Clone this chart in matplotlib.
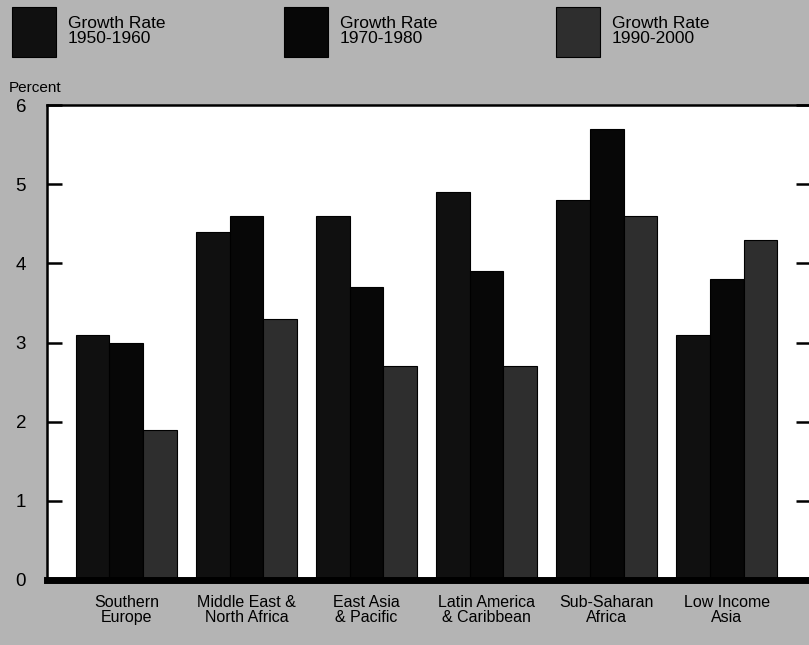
import matplotlib.pyplot as plt
from matplotlib.patches import Rectangle
import numpy as np

# === Data ===
regions = ["Southern\nEurope", "Middle East &\nNorth Africa", "East Asia\n& Pacific",
           "Latin America\n& Caribbean", "Sub-Saharan\nAfrica", "Low Income\nAsia"]
growth_1950_1960 = [3.1, 4.4, 4.6, 4.9, 4.8, 3.1]
growth_1970_1980 = [3.0, 4.6, 3.7, 3.9, 5.7, 3.8]
growth_1990_2000 = [1.9, 3.3, 2.7, 2.7, 4.6, 4.3]
series_labels = ["Growth Rate\n1950-1960", "Growth Rate\n1970-1980", "Growth Rate\n1990-2000"]
y_ticks = [0, 1, 2, 3, 4, 5, 6]

# === Style ===
BG = "#b4b4b4"
COLORS = ["#101010", "#070707", "#2e2e2e"]
plt.rcParams["font.family"] = ["Liberation Sans", "DejaVu Sans"]

fig = plt.figure(figsize=(8.09, 6.45), dpi=100)
fig.patch.set_facecolor(BG)
W, H = 809, 645

ax = fig.add_axes([47 / W, 65 / H, (811 - 47) / W, (540 - 65) / H])
ax.set_facecolor("white")

x = np.arange(len(regions))
w = 0.28
series = [growth_1950_1960, growth_1970_1980, growth_1990_2000]
for i, (vals, col) in enumerate(zip(series, COLORS)):
    ax.bar(x + (i - 1) * w, vals, w, color=col, edgecolor="black", linewidth=0.8, zorder=2)

ax.set_xlim(-0.66, 5.7)
ax.set_ylim(0, 6)

# y ticks on both sides, pointing inward
ax.set_yticks(y_ticks, [str(t) for t in y_ticks])
ax.tick_params(axis="y", direction="in", length=11, width=1.8, left=True, right=True,
               labelsize=13.5, pad=15)

ax.set_xticks(x, regions)
ax.tick_params(axis="x", length=0, labelsize=11.5, pad=11)
for lbl in ax.get_xticklabels():
    lbl.set_linespacing(1.0)

for side in ["left", "top", "right"]:
    ax.spines[side].set_linewidth(1.8)
ax.spines["bottom"].set_linewidth(5)

# Percent label
fig.text(9 / W, 1 - 88 / H, "Percent", fontsize=11, ha="left", va="center")

# Legend boxes
legend_x = [12, 284, 556]
for lx, col, lab in zip(legend_x, COLORS, series_labels):
    fig.add_artist(Rectangle((lx / W, 1 - 57 / H), 44 / W, 50 / H, transform=fig.transFigure,
                             facecolor=col, edgecolor="black", linewidth=0.8))
    fig.text((lx + 56) / W, 1 - 31 / H, lab, fontsize=12.5, ha="left", va="center",
             linespacing=1.0)

plt.savefig("out.png", dpi=100, facecolor=fig.get_facecolor())
plt.close()
